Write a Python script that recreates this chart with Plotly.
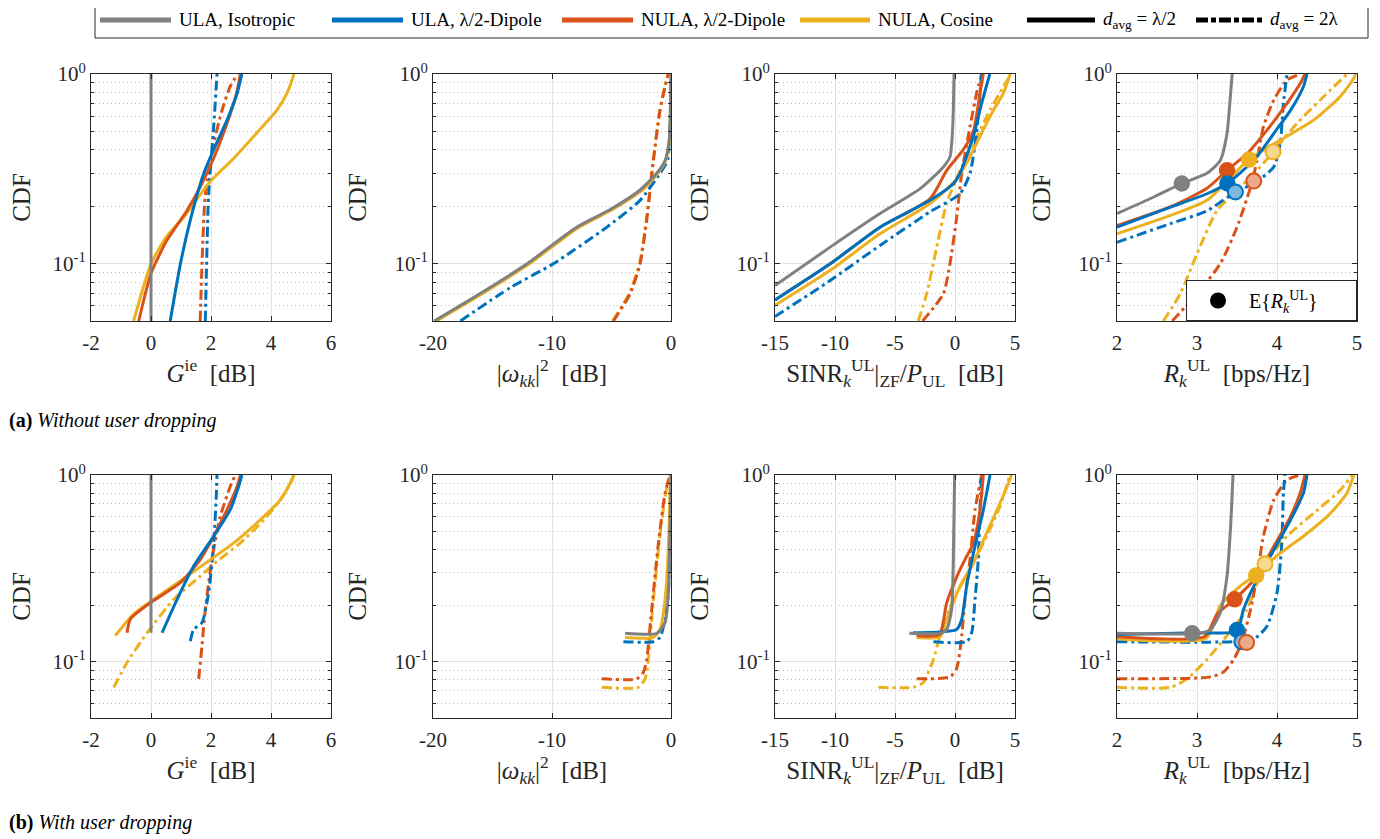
import math
import plotly.graph_objects as go

# ---------------------------------------------------------------- colours
GRAY = "#808080"
BLUE = "#0072BD"
ORANGE = "#D95319"
YELLOW = "#EDB120"
BLUE_L = "#7FB8DE"
ORANGE_L = "#ECA98C"
YELLOW_L = "#F6D88F"
TXT = "#262626"
FONT = "Liberation Serif, Times New Roman, serif"

# ---------------------------------------------------------------- tick labels
G_TICKS = [-2, 0, 2, 4, 6]
G_TICKTEXT = ["-2", "0", "2", "4", "6"]
W_TICKS = [-20, -10, 0]
W_TICKTEXT = ["-20", "-10", "0"]
S_TICKS = [-15, -10, -5, 0, 5]
S_TICKTEXT = ["-15", "-10", "-5", "0", "5"]
R_TICKS = [2, 3, 4, 5]
R_TICKTEXT = ["2", "3", "4", "5"]
Y_TICKS = [0.1, 1.0]
Y_TICKTEXT = ["10<sup>-1</sup>", "10<sup>0</sup>"]
Y_MINOR = [0.05, 0.06, 0.07, 0.08, 0.09, 0.2, 0.3, 0.4, 0.5, 0.6, 0.7, 0.8, 0.9]

LEGEND_NAMES = ["ULA, Isotropic", "ULA, λ/2-Dipole", "NULA, λ/2-Dipole", "NULA, Cosine",
                "<i>d</i><sub>avg</sub> = λ/2", "<i>d</i><sub>avg</sub> = 2λ"]
MEAN_NAME = "E{<i>R<sub>k</sub></i><sup>UL</sup>}"

# ================================================================ (a) without user dropping
# --- G^ie [dB]
A_G_ISO_S_X = [0.0, 0.0]
A_G_ISO_S_Y = [0.05, 1.0]
A_G_NCS_S_X = [-0.58, 0.0, 0.5, 1.09, 1.98, 2.76, 3.53, 4.2, 4.53, 4.7, 4.76]
A_G_NCS_S_Y = [0.05, 0.1, 0.138, 0.176, 0.272, 0.36, 0.49, 0.645, 0.79, 0.93, 1.0]
A_G_NDP_S_X = [-0.41, 0.0, 0.53, 1.2, 1.64, 2.09, 2.5, 2.85, 2.98]
A_G_NDP_S_Y = [0.05, 0.089, 0.133, 0.191, 0.254, 0.36, 0.53, 0.79, 1.0]
A_G_ULA_S_X = [0.64, 0.98, 1.31, 1.76, 2.09, 2.53, 2.87, 3.03]
A_G_ULA_S_Y = [0.05, 0.1, 0.17, 0.30, 0.40, 0.57, 0.79, 1.0]
A_G_ULA_D_X = [1.81, 1.92, 2.09, 2.2]
A_G_ULA_D_Y = [0.05, 0.23, 0.53, 1.0]
A_G_NDP_D_X = [1.64, 1.81, 2.09, 2.37, 2.64, 2.89]
A_G_NDP_D_Y = [0.05, 0.23, 0.43, 0.645, 0.86, 1.0]

# --- |w_kk|^2 [dB]
A_W_ISO_S_X = [-19.9, -16.0, -12.1, -8.0, -5.0, -2.6, -1.2, -0.5, -0.15, -0.05, 0.0]
A_W_ISO_S_Y = [0.05, 0.07, 0.1, 0.155, 0.195, 0.245, 0.30, 0.35, 0.45, 0.65, 1.0]
A_W_NCS_S_X = [-19.7, -15.8, -11.9, -7.8, -4.8, -2.4, -1.1, -0.45, -0.12, -0.04, 0.0]
A_W_NCS_S_Y = [0.05, 0.07, 0.1, 0.155, 0.195, 0.245, 0.30, 0.35, 0.45, 0.65, 1.0]
A_W_ULA_D_X = [-17.7, -13.5, -9.9, -5.4, -2.6, -0.92, -0.3, -0.1, 0.0]
A_W_ULA_D_Y = [0.05, 0.075, 0.1, 0.156, 0.216, 0.30, 0.35, 0.5, 1.0]
A_W_NCS_D_X = [-4.9, -3.5, -2.65, -2.08, -1.5, -0.95, -0.52, -0.25]
A_W_NCS_D_Y = [0.05, 0.07, 0.1, 0.17, 0.35, 0.645, 0.857, 1.0]
A_W_NDP_D_X = [-4.84, -3.44, -2.6, -2.04, -1.48, -0.92, -0.5, -0.22]
A_W_NDP_D_Y = [0.05, 0.0695, 0.1, 0.17, 0.35, 0.645, 0.857, 1.0]

# --- SINR_k^UL|ZF / P_UL [dB]
A_S_ISO_S_X = [-15.0, -10.4, -6.25, -2.9, -0.97, -0.42, -0.19, -0.08]
A_S_ISO_S_Y = [0.0769, 0.1225, 0.184, 0.249, 0.324, 0.366, 0.527, 1.0]
A_S_ULA_S_X = [-15.0, -10.4, -6.25, -2.08, -0.14, 0.42, 1.53, 2.22, 2.9]
A_S_ULA_S_Y = [0.0645, 0.1, 0.156, 0.216, 0.264, 0.30, 0.47, 0.70, 1.0]
A_S_NDP_S_X = [-15.0, -10.4, -6.25, -2.08, -0.7, 0.69, 1.53, 2.08, 2.36]
A_S_NDP_S_Y = [0.0645, 0.1, 0.156, 0.22, 0.31, 0.40, 0.5, 0.79, 1.0]
A_S_NCS_S_X = [-15.0, -10.4, -6.25, -2.08, 0.14, 1.25, 2.08, 3.2, 4.03, 4.6]
A_S_NCS_S_Y = [0.0605, 0.0925, 0.144, 0.208, 0.28, 0.366, 0.47, 0.645, 0.79, 1.0]
A_S_ULA_D_X = [-15.0, -10.4, -6.25, -2.08, 0.42, 1.25, 1.8, 2.08, 2.22]
A_S_ULA_D_Y = [0.0528, 0.0817, 0.125, 0.188, 0.234, 0.30, 0.49, 0.79, 1.0]
A_S_NDP_D_X = [-2.7, -0.97, -0.42, 0.14, 0.56, 1.25, 1.8, 2.22]
A_S_NDP_D_Y = [0.05, 0.0695, 0.1, 0.176, 0.30, 0.527, 0.79, 1.0]
A_S_NCS_D_X = [-3.06, -2.36, -1.53, -0.7, 0.42, 1.53, 2.92, 4.03, 4.67]
A_S_NCS_D_Y = [0.05, 0.0695, 0.122, 0.208, 0.31, 0.43, 0.645, 0.857, 1.0]

# --- R_k^UL [bps/Hz]
A_R_ISO_S_X = [2.0, 2.46, 2.81, 3.125, 3.29, 3.375, 3.42, 3.44]
A_R_ISO_S_Y = [0.184, 0.225, 0.265, 0.30, 0.35, 0.486, 0.79, 1.0]
A_R_ULA_S_X = [2.0, 2.67, 3.125, 3.375, 3.71, 3.96, 4.17, 4.33, 4.375]
A_R_ULA_S_Y = [0.156, 0.199, 0.234, 0.265, 0.351, 0.486, 0.645, 0.857, 1.0]
A_R_NDP_S_X = [2.0, 2.67, 3.125, 3.375, 3.625, 3.875, 4.125, 4.29, 4.35]
A_R_NDP_S_Y = [0.159, 0.2, 0.25, 0.311, 0.38, 0.506, 0.70, 0.89, 1.0]
A_R_NCS_S_X = [2.0, 2.67, 3.125, 3.646, 4.04, 4.46, 4.79, 4.96, 4.98]
A_R_NCS_S_Y = [0.144, 0.18, 0.216, 0.354, 0.448, 0.572, 0.76, 0.95, 1.0]
A_R_ULA_D_X = [2.0, 2.67, 3.125, 3.48, 3.71, 3.96, 4.04, 4.08, 4.125]
A_R_ULA_D_Y = [0.13, 0.163, 0.19, 0.239, 0.265, 0.324, 0.43, 0.70, 1.0]
A_R_NDP_D_X = [2.69, 3.0, 3.29, 3.5, 3.67, 3.75, 3.83, 3.96, 4.125, 4.29]
A_R_NDP_D_Y = [0.05, 0.0695, 0.1, 0.156, 0.254, 0.35, 0.527, 0.73, 0.93, 1.0]
A_R_NCS_D_X = [2.58, 2.79, 3.0, 3.25, 3.5, 3.79, 3.95, 4.25, 4.54, 4.875]
A_R_NCS_D_Y = [0.05, 0.0695, 0.113, 0.191, 0.244, 0.324, 0.389, 0.55, 0.73, 1.0]
# mean rates (ISO, NCS, NDP, ULA) for d=lambda/2 and (ULA, NDP, NCS) for d=2lambda
A_R_MEAN_S_X = [2.81, 3.65, 3.375, 3.38]
A_R_MEAN_S_Y = [0.265, 0.354, 0.311, 0.265]
A_R_MEAN_D_X = [3.48, 3.71, 3.95]
A_R_MEAN_D_Y = [0.239, 0.273, 0.389]

# ================================================================ (b) with user dropping
# --- G^ie [dB]
B_G_ISO_S_X = [0.0, 0.0]
B_G_ISO_S_Y = [0.143, 1.0]
B_G_NCS_S_X = [-1.19, -0.58, 0.09, 1.2, 1.98, 2.76, 3.64, 4.31, 4.64, 4.76]
B_G_NCS_S_Y = [0.138, 0.18, 0.216, 0.287, 0.352, 0.433, 0.575, 0.736, 0.903, 1.0]
B_G_NDP_S_X = [-0.8, -0.69, -0.02, 0.98, 1.64, 2.09, 2.53, 2.87, 2.98]
B_G_NDP_S_Y = [0.143, 0.169, 0.207, 0.265, 0.352, 0.47, 0.65, 0.867, 1.0]
B_G_ULA_S_X = [0.37, 0.87, 1.42, 2.09, 2.64, 2.92, 3.03]
B_G_ULA_S_Y = [0.143, 0.216, 0.325, 0.47, 0.65, 0.867, 1.0]
B_G_NCS_D_X = [-1.24, -0.8, -0.13, 0.76, 1.64, 2.2, 2.98, 3.76, 4.31, 4.7, 4.76]
B_G_NCS_D_Y = [0.073, 0.099, 0.143, 0.216, 0.287, 0.345, 0.433, 0.575, 0.736, 0.94, 1.0]
B_G_NDP_D_X = [1.59, 1.7, 1.81, 2.03, 2.31, 2.64, 2.81]
B_G_NDP_D_Y = [0.081, 0.122, 0.191, 0.352, 0.6, 0.867, 1.0]
B_G_ULA_D_X = [1.31, 1.42, 1.7, 1.92, 2.09, 2.18, 2.2]
B_G_ULA_D_Y = [0.129, 0.149, 0.162, 0.234, 0.43, 0.8, 1.0]

# --- |w_kk|^2 [dB]
B_W_ISO_S_X = [-3.86, -1.2, -0.5, -0.22, -0.08, 0.0]
B_W_ISO_S_Y = [0.142, 0.142, 0.162, 0.234, 0.53, 1.0]
B_W_NCS_S_X = [-3.86, -1.5, -0.9, -0.4, -0.15, -0.05]
B_W_NCS_S_Y = [0.135, 0.135, 0.15, 0.25, 0.55, 1.0]
B_W_ULA_D_X = [-4.0, -1.48, -0.92, -0.5, -0.22, 0.0]
B_W_ULA_D_Y = [0.128, 0.128, 0.135, 0.169, 0.234, 1.0]
B_W_NCS_D_X = [-5.82, -2.74, -2.18, -1.9, -1.55, -1.0, -0.45, -0.05]
B_W_NCS_D_Y = [0.073, 0.073, 0.081, 0.103, 0.191, 0.43, 0.8, 1.0]
B_W_NDP_D_X = [-5.82, -2.88, -2.32, -2.04, -1.62, -1.06, -0.5, -0.08]
B_W_NDP_D_Y = [0.081, 0.081, 0.088, 0.103, 0.191, 0.43, 0.8, 1.0]

# --- SINR_k^UL|ZF / P_UL [dB]
B_S_ISO_S_X = [-3.8, -1.25, -0.69, -0.28, -0.14, -0.03]
B_S_ISO_S_Y = [0.142, 0.142, 0.149, 0.191, 0.352, 1.0]
B_S_NCS_S_X = [-3.19, -1.25, -0.69, 0.42, 1.53, 2.64, 3.75, 4.44, 4.72]
B_S_NCS_S_Y = [0.135, 0.136, 0.169, 0.254, 0.338, 0.49, 0.706, 0.9, 1.0]
B_S_NDP_S_X = [-3.2, -1.3, -0.69, 0.3, 1.0, 1.53, 2.08, 2.36]
B_S_NDP_S_Y = [0.138, 0.14, 0.207, 0.3, 0.37, 0.43, 0.65, 1.0]
B_S_ULA_S_X = [-3.5, -0.97, 0.14, 0.56, 0.97, 1.53, 2.36, 2.92]
B_S_ULA_S_Y = [0.143, 0.145, 0.149, 0.169, 0.254, 0.38, 0.65, 1.0]
B_S_ULA_D_X = [-1.8, 0.97, 1.39, 1.67, 1.94, 2.08, 2.22]
B_S_ULA_D_Y = [0.128, 0.128, 0.143, 0.216, 0.352, 0.65, 1.0]
B_S_NDP_D_X = [-3.19, -0.42, 0.14, 0.56, 0.83, 1.25, 1.67, 2.22]
B_S_NDP_D_Y = [0.081, 0.083, 0.092, 0.138, 0.216, 0.352, 0.65, 1.0]
B_S_NCS_D_X = [-6.39, -3.47, -2.64, -1.8, -1.25, -0.14, 1.25, 2.64, 3.75, 4.58]
B_S_NCS_D_Y = [0.073, 0.073, 0.0775, 0.103, 0.138, 0.216, 0.312, 0.47, 0.68, 1.0]

# --- R_k^UL [bps/Hz]
B_R_ISO_S_X = [2.0, 3.04, 3.17, 3.29, 3.375, 3.42, 3.45]
B_R_ISO_S_Y = [0.142, 0.142, 0.149, 0.183, 0.287, 0.53, 1.0]
B_R_NCS_S_X = [2.0, 3.12, 3.29, 3.54, 3.74, 4.0, 4.33, 4.67, 4.875, 4.96]
B_R_NCS_S_Y = [0.133, 0.134, 0.2, 0.254, 0.293, 0.37, 0.47, 0.625, 0.8, 1.0]
B_R_NDP_S_X = [2.0, 3.1, 3.25, 3.47, 3.75, 3.96, 4.17, 4.29, 4.35]
B_R_NDP_S_Y = [0.136, 0.137, 0.18, 0.216, 0.287, 0.415, 0.6, 0.8, 1.0]
B_R_ULA_S_X = [2.0, 3.0, 3.5, 3.58, 3.71, 3.92, 4.17, 4.33, 4.375]
B_R_ULA_S_Y = [0.14, 0.143, 0.146, 0.19, 0.254, 0.37, 0.575, 0.8, 1.0]
B_R_ULA_D_X = [2.0, 3.46, 3.71, 3.875, 4.0, 4.06, 4.08, 4.1]
B_R_ULA_D_Y = [0.128, 0.128, 0.132, 0.155, 0.234, 0.43, 0.8, 1.0]
B_R_NDP_D_X = [2.0, 3.17, 3.33, 3.46, 3.56, 3.67, 3.75, 3.83, 3.96, 4.125, 4.29]
B_R_NDP_D_Y = [0.081, 0.083, 0.088, 0.103, 0.127, 0.191, 0.287, 0.47, 0.736, 0.94, 1.0]
B_R_NCS_D_X = [2.0, 2.67, 2.875, 3.125, 3.375, 3.625, 3.85, 4.125, 4.46, 4.79, 4.94]
B_R_NCS_D_Y = [0.073, 0.073, 0.081, 0.103, 0.138, 0.191, 0.335, 0.47, 0.625, 0.83, 1.0]
B_R_MEAN_S_X = [2.94, 3.74, 3.47, 3.5]
B_R_MEAN_S_Y = [0.142, 0.29, 0.216, 0.148]
B_R_MEAN_D_X = [3.56, 3.62, 3.85]
B_R_MEAN_D_Y = [0.128, 0.127, 0.335]

MEAN_S_COLORS = [GRAY, YELLOW, ORANGE, BLUE]
MEAN_D_EDGE = [BLUE, ORANGE, YELLOW]
MEAN_D_FILL = [BLUE_L, ORANGE_L, YELLOW_L]

# ---------------------------------------------------------------- layout geometry
# the page body has an 8 px margin, so the figure is 8 px smaller than the window
OFF = 8
W, H = 1380 - OFF, 839 - OFF


def px(xp):
    return (xp - OFF) / W


def py(yp):
    return 1 - (yp - OFF) / H


COLS_PX = [(91, 331), (433, 671), (775, 1015), (1117, 1357)]
ROWS_PX = [(74, 321), (475, 718)]
DASHDOT = "10px,4px,3px,4px"
LW = 3

PANELS = [
    [(A_G_NDP_D_X, A_G_NDP_D_Y, ORANGE, DASHDOT), (A_G_ULA_D_X, A_G_ULA_D_Y, BLUE, DASHDOT),
     (A_G_NCS_S_X, A_G_NCS_S_Y, YELLOW, "solid"), (A_G_NDP_S_X, A_G_NDP_S_Y, ORANGE, "solid"),
     (A_G_ULA_S_X, A_G_ULA_S_Y, BLUE, "solid"), (A_G_ISO_S_X, A_G_ISO_S_Y, GRAY, "solid")],
    [(A_W_NCS_D_X, A_W_NCS_D_Y, YELLOW, DASHDOT), (A_W_NDP_D_X, A_W_NDP_D_Y, ORANGE, DASHDOT),
     (A_W_ULA_D_X, A_W_ULA_D_Y, BLUE, DASHDOT), (A_W_NCS_S_X, A_W_NCS_S_Y, YELLOW, "solid"),
     (A_W_ISO_S_X, A_W_ISO_S_Y, GRAY, "solid")],
    [(A_S_NCS_D_X, A_S_NCS_D_Y, YELLOW, DASHDOT), (A_S_NDP_D_X, A_S_NDP_D_Y, ORANGE, DASHDOT),
     (A_S_ULA_D_X, A_S_ULA_D_Y, BLUE, DASHDOT), (A_S_NCS_S_X, A_S_NCS_S_Y, YELLOW, "solid"),
     (A_S_NDP_S_X, A_S_NDP_S_Y, ORANGE, "solid"), (A_S_ULA_S_X, A_S_ULA_S_Y, BLUE, "solid"),
     (A_S_ISO_S_X, A_S_ISO_S_Y, GRAY, "solid")],
    [(A_R_NCS_D_X, A_R_NCS_D_Y, YELLOW, DASHDOT), (A_R_NDP_D_X, A_R_NDP_D_Y, ORANGE, DASHDOT),
     (A_R_ULA_D_X, A_R_ULA_D_Y, BLUE, DASHDOT), (A_R_NCS_S_X, A_R_NCS_S_Y, YELLOW, "solid"),
     (A_R_NDP_S_X, A_R_NDP_S_Y, ORANGE, "solid"), (A_R_ULA_S_X, A_R_ULA_S_Y, BLUE, "solid"),
     (A_R_ISO_S_X, A_R_ISO_S_Y, GRAY, "solid")],
    [(B_G_NCS_D_X, B_G_NCS_D_Y, YELLOW, DASHDOT), (B_G_NDP_D_X, B_G_NDP_D_Y, ORANGE, DASHDOT),
     (B_G_ULA_D_X, B_G_ULA_D_Y, BLUE, DASHDOT), (B_G_NCS_S_X, B_G_NCS_S_Y, YELLOW, "solid"),
     (B_G_NDP_S_X, B_G_NDP_S_Y, ORANGE, "solid"), (B_G_ULA_S_X, B_G_ULA_S_Y, BLUE, "solid"),
     (B_G_ISO_S_X, B_G_ISO_S_Y, GRAY, "solid")],
    [(B_W_NCS_D_X, B_W_NCS_D_Y, YELLOW, DASHDOT), (B_W_NDP_D_X, B_W_NDP_D_Y, ORANGE, DASHDOT),
     (B_W_ULA_D_X, B_W_ULA_D_Y, BLUE, DASHDOT), (B_W_NCS_S_X, B_W_NCS_S_Y, YELLOW, "solid"),
     (B_W_ISO_S_X, B_W_ISO_S_Y, GRAY, "solid")],
    [(B_S_NCS_D_X, B_S_NCS_D_Y, YELLOW, DASHDOT), (B_S_NDP_D_X, B_S_NDP_D_Y, ORANGE, DASHDOT),
     (B_S_ULA_D_X, B_S_ULA_D_Y, BLUE, DASHDOT), (B_S_NCS_S_X, B_S_NCS_S_Y, YELLOW, "solid"),
     (B_S_NDP_S_X, B_S_NDP_S_Y, ORANGE, "solid"), (B_S_ULA_S_X, B_S_ULA_S_Y, BLUE, "solid"),
     (B_S_ISO_S_X, B_S_ISO_S_Y, GRAY, "solid")],
    [(B_R_NCS_D_X, B_R_NCS_D_Y, YELLOW, DASHDOT), (B_R_NDP_D_X, B_R_NDP_D_Y, ORANGE, DASHDOT),
     (B_R_ULA_D_X, B_R_ULA_D_Y, BLUE, DASHDOT), (B_R_NCS_S_X, B_R_NCS_S_Y, YELLOW, "solid"),
     (B_R_NDP_S_X, B_R_NDP_S_Y, ORANGE, "solid"), (B_R_ULA_S_X, B_R_ULA_S_Y, BLUE, "solid"),
     (B_R_ISO_S_X, B_R_ISO_S_Y, GRAY, "solid")],
]

X_SPECS = [
    ([-2, 6], G_TICKS, G_TICKTEXT, "<i>G</i><sup>ie</sup>  [dB]"),
    ([-20, 0], W_TICKS, W_TICKTEXT, "|<i>ω<sub>kk</sub></i>|<sup>2</sup>  [dB]"),
    ([-15, 5], S_TICKS, S_TICKTEXT, "SINR<sub><i>k</i></sub><sup>UL</sup>|<sub>ZF</sub>/<i>P</i><sub>UL</sub>  [dB]"),
    ([2, 5], R_TICKS, R_TICKTEXT, "<i>R<sub>k</sub></i><sup>UL</sup>  [bps/Hz]"),
]

fig = go.Figure()
layout = dict(width=W, height=H, margin=dict(l=0, r=0, t=0, b=0, autoexpand=False),
              paper_bgcolor="white", plot_bgcolor="white",
              font=dict(family=FONT, color=TXT), showlegend=True)

for p, curves in enumerate(PANELS):
    row, col = divmod(p, 4)
    idx = p + 1
    xa = "x" if idx == 1 else f"x{idx}"
    ya = "y" if idx == 1 else f"y{idx}"
    x0, x1 = COLS_PX[col]
    t0, t1 = ROWS_PX[row]
    rng, tv, tt, title = X_SPECS[col]
    axis_common = dict(showline=True, linecolor=TXT, linewidth=1, mirror="ticks", automargin=False,
                       ticks="inside", ticklen=5, tickcolor=TXT, zeroline=False,
                       showgrid=True, gridcolor="#E2E2E2", gridwidth=1,
                       tickfont=dict(family=FONT, size=21, color=TXT))
    layout["xaxis" if idx == 1 else f"xaxis{idx}"] = dict(
        domain=[px(x0), px(x1)], range=rng, tickmode="array", tickvals=tv, ticktext=tt,
        anchor=ya, ticklabelstandoff=3,
        title=dict(text=title, font=dict(family=FONT, size=25, color=TXT), standoff=8),
        **axis_common)
    layout["yaxis" if idx == 1 else f"yaxis{idx}"] = dict(
        domain=[py(t1), py(t0)], type="log", range=[math.log10(0.05), 0],
        tickmode="array", tickvals=Y_TICKS, ticktext=Y_TICKTEXT, anchor=xa,
        minor=dict(tickmode="array", tickvals=Y_MINOR, ticks="inside", ticklen=3, tickcolor=TXT,
                   showgrid=True, gridcolor="#BDBDBD", griddash="1px,3px", gridwidth=1),
        title=dict(text="CDF", font=dict(family=FONT, size=25, color=TXT), standoff=20),
        **axis_common)
    for (cx, cy, color, dash) in curves:
        fig.add_trace(go.Scatter(x=cx, y=cy, mode="lines", xaxis=xa, yaxis=ya,
                                 line=dict(color=color, width=LW, dash=dash, shape="spline", smoothing=0.6),
                                 showlegend=False, hoverinfo="skip"))

# mean-rate markers
for (xa, ya, sx, sy, dx, dy) in [("x4", "y4", A_R_MEAN_S_X, A_R_MEAN_S_Y, A_R_MEAN_D_X, A_R_MEAN_D_Y),
                                 ("x8", "y8", B_R_MEAN_S_X, B_R_MEAN_S_Y, B_R_MEAN_D_X, B_R_MEAN_D_Y)]:
    fig.add_trace(go.Scatter(x=sx, y=sy, mode="markers", xaxis=xa, yaxis=ya, showlegend=False,
                             marker=dict(size=15, color=MEAN_S_COLORS,
                                         line=dict(color=MEAN_S_COLORS, width=1.5)), hoverinfo="skip"))
    fig.add_trace(go.Scatter(x=dx, y=dy, mode="markers", xaxis=xa, yaxis=ya, showlegend=False,
                             marker=dict(size=15, color=MEAN_D_FILL,
                                         line=dict(color=MEAN_D_EDGE, width=2)), hoverinfo="skip"))

# mean-rate legend inside panel 4
fig.add_trace(go.Scatter(x=[None], y=[None], mode="markers", name=MEAN_NAME,
                         marker=dict(size=16, color="black")))
layout["legend"] = dict(x=px(1357), y=py(321), xanchor="right", yanchor="bottom",
                        orientation="h", itemwidth=52, entrywidth=102,
                        bgcolor="white", bordercolor=TXT, borderwidth=1,
                        font=dict(family=FONT, size=20, color="black"))

# top legend key (decoration): line samples + labels
LEG_COLORS = [GRAY, BLUE, ORANGE, YELLOW, "black", "black"]
LEG_DASH = ["solid", "solid", "solid", "solid", "solid", "12px,3px,5px,3px"]
LEG_LINE_PX = [(100, 171), (332, 403), (562, 633), (800, 870), (1027, 1095), (1196, 1264)]
LEG_TEXT_PX = [177, 409, 639, 876, 1101, 1268]
shapes = [dict(type="rect", xref="paper", yref="paper", x0=px(95), x1=px(1368),
               y0=py(38), y1=py(2), line=dict(color=TXT, width=1))]
annotations = []
for k in range(6):
    a, b = LEG_LINE_PX[k]
    shapes.append(dict(type="line", xref="paper", yref="paper", x0=px(a), x1=px(b), y0=py(20), y1=py(20),
                       line=dict(color=LEG_COLORS[k], width=5, dash=LEG_DASH[k])))
    annotations.append(dict(text=LEGEND_NAMES[k], x=px(LEG_TEXT_PX[k]), y=py(20), xref="paper", yref="paper",
                            xanchor="left", yanchor="middle", showarrow=False,
                            font=dict(family=FONT, size=19, color="black")))
annotations += [
    dict(text="<b>(a)</b> <i>Without user dropping</i>", x=px(7), y=py(420), xref="paper", yref="paper",
         xanchor="left", yanchor="middle", showarrow=False, font=dict(family=FONT, size=20, color="black")),
    dict(text="<b>(b)</b> <i>With user dropping</i>", x=px(7), y=py(822), xref="paper", yref="paper",
         xanchor="left", yanchor="middle", showarrow=False, font=dict(family=FONT, size=20, color="black")),
]
layout["shapes"] = shapes
layout["annotations"] = annotations

fig.update_layout(**layout)
fig.write_html("out.html")
